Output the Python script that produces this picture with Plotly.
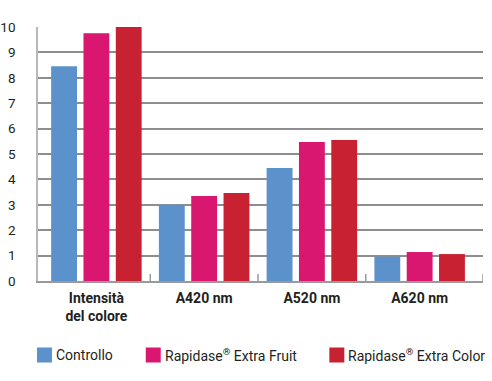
import plotly.graph_objects as go

categories = ["Intensità<br>del colore", "A420 nm", "A520 nm", "A620 nm"]
series_names = ["Controllo", "Rapidase® Extra Fruit", "Rapidase® Extra Color"]
controllo = [8.45, 3.0, 4.45, 0.96]
extra_fruit = [9.75, 3.35, 5.47, 1.14]
extra_color = [10.0, 3.46, 5.55, 1.06]
y_ticks = [0, 1, 2, 3, 4, 5, 6, 7, 8, 9, 10]

colors = ["#5B92CB", "#DA1770", "#C82131"]
values = [controllo, extra_fruit, extra_color]

FONT = "Roboto, Liberation Sans, sans-serif"

fig = go.Figure()
for name, vals, col in zip(series_names, values, colors):
    fig.add_trace(go.Bar(x=categories, y=vals, name=name, marker_color=col,
                         marker_line_width=0, showlegend=False))

rng = [-0.542, 3.588]
PLOT_H = 254

# small tick marks at the boundaries between categories
for b in [0.5, 1.5, 2.5, 3.588]:
    fig.add_shape(type="line", xref="x", yref="paper", x0=b, x1=b,
                  y0=0, y1=7 / PLOT_H, line=dict(color="#9a9a9c", width=1.5))

# legend built from series names / colours
W, H = 492, 381
legend_sq_x = [37, 146, 330]
sq = 15
leg_y = 355
for name, col, x0 in zip(series_names, colors, legend_sq_x):
    fig.add_shape(type="rect", xref="paper", yref="paper",
                  x0=(x0 - 38) / 446, x1=(x0 + sq - 38) / 446,
                  y0=(281 - leg_y - sq / 2) / PLOT_H, y1=(281 - leg_y + sq / 2) / PLOT_H,
                  fillcolor=col, line_width=0)
    fig.add_annotation(xref="paper", yref="paper", x=(x0 + sq + 2 - 38) / 446,
                       y=(281 - leg_y) / PLOT_H, xanchor="left", yanchor="middle",
                       text=name.replace("®", "<sup>®</sup>"), showarrow=False,
                       font=dict(size=14, family=FONT, color="#231f20"))

fig.update_layout(
    width=W, height=H,
    margin=dict(l=38, r=9, t=27, b=100, autoexpand=False),
    paper_bgcolor="white", plot_bgcolor="white",
    barmode="group", bargap=0.1, bargroupgap=0.2,
    font=dict(family=FONT, color="#231f20"),
    xaxis=dict(type="category", range=rng, showgrid=False, showline=True,
               linecolor="#9a9a9c", linewidth=2, ticks="",
               tickfont=dict(size=14, family=FONT, weight="bold", color="#231f20"),
               ticklabelstandoff=3),
    yaxis=dict(range=[0, 10], tickvals=y_ticks, showgrid=True, gridcolor="#8e8e90",
               gridwidth=2, zeroline=False, showline=True, linecolor="#b8b8ba",
               linewidth=1.5, ticks="", tickfont=dict(size=13.5, family=FONT, color="#231f20"),
               ticklabelstandoff=18),
)

fig.write_html("out.html", config={"displayModeBar": False},
               post_script="document.body.style.margin='0';document.body.style.padding='0';")
